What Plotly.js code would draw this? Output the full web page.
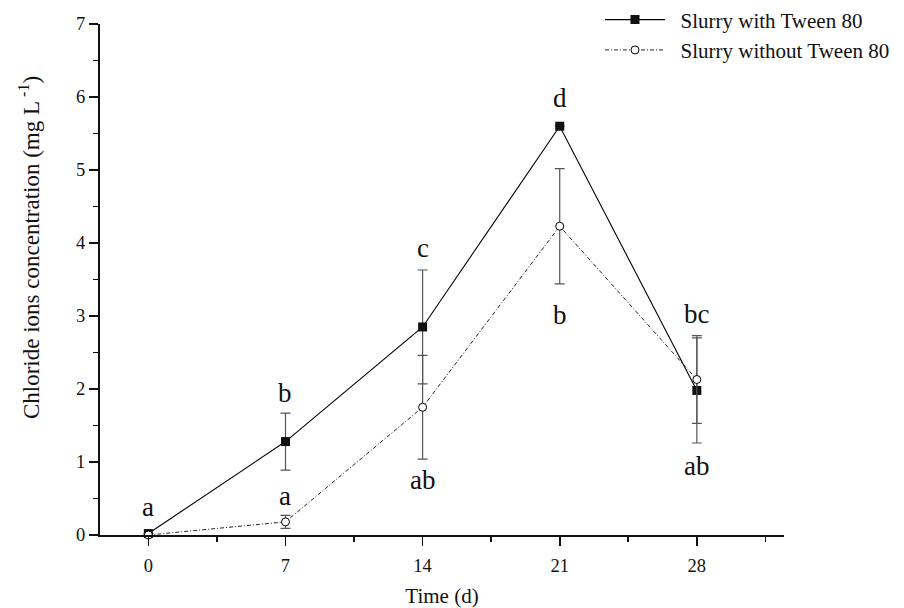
<!DOCTYPE html>
<html>
<head>
<meta charset="utf-8">
<script src="https://cdn.plot.ly/plotly-3.0.1.min.js"></script>
<style>html,body{margin:0;padding:0;background:#fff;}#chart{width:904px;height:608px;}</style>
</head>
<body>
<div id="chart"></div>
<script>
const days = [0, 7, 14, 21, 28];
const withTween = [0.02, 1.28, 2.85, 5.60, 1.98];
const withTweenErr = [0.0, 0.39, 0.78, 0.0, 0.72];
const withoutTween = [0.0, 0.18, 1.75, 4.23, 2.13];
const withoutTweenErr = [0.0, 0.09, 0.71, 0.79, 0.60];
const lettersWith = ["a", "b", "c", "d", "bc"];
const lettersWithY = [0.38, 1.95, 3.93, 5.98, 3.03];
const lettersWithout = ["", "a", "ab", "b", "ab"];
const lettersWithoutY = [0, 0.53, 0.76, 3.02, 0.95];
const xTicks = [0, 7, 14, 21, 28];
const yTicks = [0, 1, 2, 3, 4, 5, 6, 7];
const yTitle = "Chloride ions concentration (mg L<sup> -1</sup>)";

const serif = "Liberation Serif, Times New Roman, serif";

const traces = [
  {
    x: days, y: withTween, name: "\u00a0\u00a0Slurry with Tween 80", type: "scatter", mode: "lines+markers",
    line: {color: "#000", width: 1.1},
    marker: {symbol: "square", size: 9, color: "#111", line: {color: "#111", width: 0}},
    error_y: {type: "data", array: withTweenErr, visible: true, color: "#555", thickness: 1.2, width: 5},
    cliponaxis: false
  },
  {
    x: days, y: withoutTween, name: "\u00a0\u00a0Slurry without Tween 80", type: "scatter", mode: "lines+markers",
    line: {color: "#222", width: 1, dash: "4px,2px,1px,2px"},
    marker: {symbol: "circle", size: 8, color: "#fff", line: {color: "#000", width: 1}},
    error_y: {type: "data", array: withoutTweenErr, visible: true, color: "#555", thickness: 1.2, width: 5},
    cliponaxis: false
  }
];

const annotations = [];
days.forEach((d, i) => {
  if (lettersWith[i]) annotations.push({x: d, y: lettersWithY[i], text: lettersWith[i], showarrow: false, xref: "x", yref: "y", font: {family: serif, size: 27, color: "#111"}});
  if (lettersWithout[i]) annotations.push({x: d, y: lettersWithoutY[i], text: lettersWithout[i], showarrow: false, xref: "x", yref: "y", font: {family: serif, size: 27, color: "#111"}});
});
annotations.push({x: -0.102, y: 0.562, xref: "paper", yref: "paper", text: yTitle, textangle: -90,
  showarrow: false, xanchor: "center", yanchor: "middle", font: {family: serif, size: 23, color: "#111"}});

const layout = {
  width: 904, height: 608,
  margin: {l: 100, r: 120, t: 23.5, b: 72.5, autoexpand: false},
  paper_bgcolor: "#fff", plot_bgcolor: "#fff",
  font: {family: serif, color: "#111"},
  showlegend: true,
  legend: {x: 0.731, y: 1.048, xanchor: "left", yanchor: "top", bgcolor: "rgba(0,0,0,0)",
           font: {family: serif, size: 21, color: "#111"}, itemwidth: 60, tracegroupgap: 0},
  xaxis: {
    range: [-2.47, 32.45], tickvals: xTicks, ticktext: xTicks.map(String), automargin: false,
    showline: true, linecolor: "#111", linewidth: 2, showgrid: false, zeroline: false,
    ticks: "outside", ticklen: 9, tickwidth: 1.6, tickcolor: "#111", ticklabelstandoff: 4,
    minor: {dtick: 3.5, tick0: 0, ticks: "outside", ticklen: 5, tickwidth: 1.6, tickcolor: "#111", showgrid: false},
    tickfont: {family: serif, size: 18.5, color: "#111"},
    title: {text: "Time (d)", font: {family: serif, size: 21, color: "#111"}, standoff: 14}
  },
  yaxis: {
    range: [0, 7], tickvals: yTicks, ticktext: yTicks.map(String), automargin: false,
    showline: true, linecolor: "#111", linewidth: 2, showgrid: false, zeroline: false,
    ticks: "outside", ticklen: 9, tickwidth: 1.6, tickcolor: "#111",
    minor: {dtick: 0.5, tick0: 0, ticks: "outside", ticklen: 5, tickwidth: 1.6, tickcolor: "#111", showgrid: false},
    tickfont: {family: serif, size: 18.5, color: "#111"}
  },
  annotations: annotations
};

Plotly.newPlot("chart", traces, layout, {displayModeBar: false, staticPlot: true});
</script>
</body>
</html>
